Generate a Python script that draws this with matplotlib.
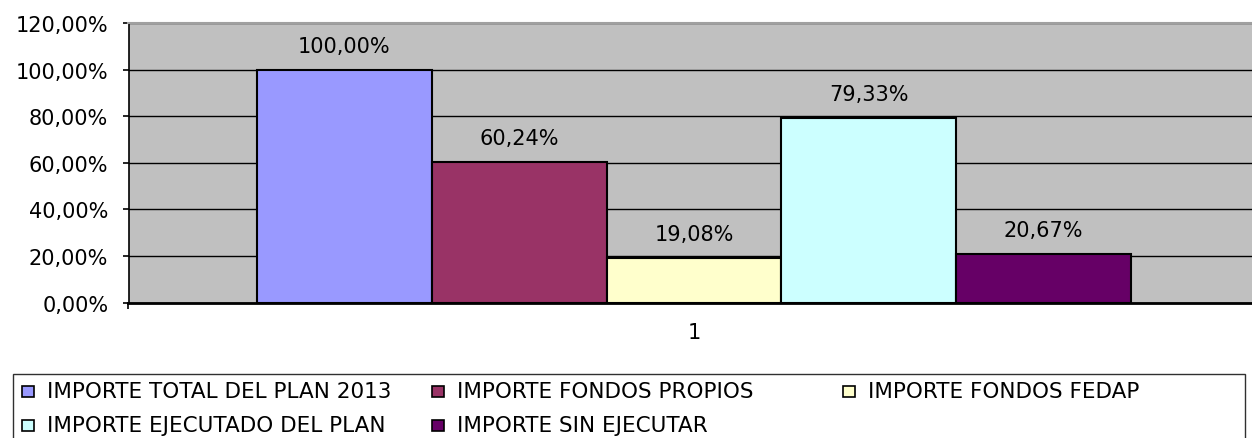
import numpy as np
import matplotlib

matplotlib.use('Agg')
import matplotlib.pyplot as plt
from matplotlib.patches import Rectangle
from matplotlib.ticker import MultipleLocator, FuncFormatter

W, H = 1252, 439

SERIES = ['IMPORTE TOTAL DEL PLAN 2013', 'IMPORTE FONDOS PROPIOS', 'IMPORTE FONDOS FEDAP',
          'IMPORTE EJECUTADO DEL PLAN', 'IMPORTE SIN EJECUTAR']
VALUES = [100.00, 60.24, 19.08, 79.33, 20.67]
COLORS = ['#9999FF', '#993366', '#FFFFCC', '#CCFFFF', '#660066']
CATEGORY = '1'

BG_COLOR = '#C0C0C0'
FONT_SIZE = 15
LEGEND_SIZE = 15.5

plt.rcParams['font.family'] = ['DejaVu Sans']
plt.rcParams['font.size'] = FONT_SIZE


def pct(v):
    return f"{v:.2f}".replace('.', ',') + '%'


def fx(px):
    return px / W


def fy(py):
    return 1 - py / H


fig = plt.figure(figsize=(W / 100, H / 100), dpi=100)
fig.patch.set_facecolor('white')

# plot area in pixels: left 128.5, top 24, bottom 303.5
ax = fig.add_axes([fx(128.5), fy(303.5), 1 - fx(128.5), (303.5 - 24) / H])
ax.set_facecolor(BG_COLOR)

x = np.arange(len(VALUES))
ax.bar(x, VALUES, width=1.0, color=COLORS, edgecolor='black', linewidth=1.5, zorder=3)

for xi, v in zip(x, VALUES):
    ax.annotate(pct(v), (xi, v), xytext=(0, 17.3), textcoords='offset points',
                ha='center', va='center', fontsize=FONT_SIZE, color='black')

ax.set_ylim(0, 120)
ax.set_xlim(-1.235, 5.192)
ax.yaxis.set_major_locator(MultipleLocator(20))
ax.yaxis.set_major_formatter(FuncFormatter(lambda v, _: pct(v)))
ax.yaxis.grid(True, color='black', linewidth=1.0)
ax.set_axisbelow(True)

ax.set_xticks([2])
ax.set_xticklabels([CATEGORY])
ax.set_xticks([-1.235], minor=True)
ax.tick_params(axis='x', which='major', length=0, pad=14)
ax.tick_params(axis='x', which='minor', length=4.5, width=1.2, direction='out')
ax.tick_params(axis='y', length=4.5, width=1.2, direction='out', pad=10)

ax.spines['top'].set_color('#A0A0A0')
ax.spines['top'].set_linewidth(1.5)
ax.spines['right'].set_visible(False)
ax.spines['left'].set_linewidth(1.2)
ax.spines['bottom'].set_linewidth(2.0)
ax.spines['bottom'].set_zorder(4)

# legend box, laid out row by row like the source
fig.add_artist(Rectangle((fx(13), fy(447)), fx(1245) - fx(13), (447 - 375) / H,
                         transform=fig.transFigure, facecolor='white',
                         edgecolor='#303030', linewidth=1.0))
col_x = [22, 432, 843]
row_y = [392, 426]
for i, (name, color) in enumerate(zip(SERIES, COLORS)):
    mx = col_x[i % 3]
    my = row_y[i // 3]
    fig.add_artist(Rectangle((fx(mx), fy(my + 5.5)), 12 / W, 11 / H,
                             transform=fig.transFigure, facecolor=color,
                             edgecolor='black', linewidth=1.2))
    fig.text(fx(mx + 25), fy(my), name, ha='left', va='center',
             fontsize=LEGEND_SIZE, color='black')

fig.savefig('out.png', dpi=100)
plt.close(fig)
